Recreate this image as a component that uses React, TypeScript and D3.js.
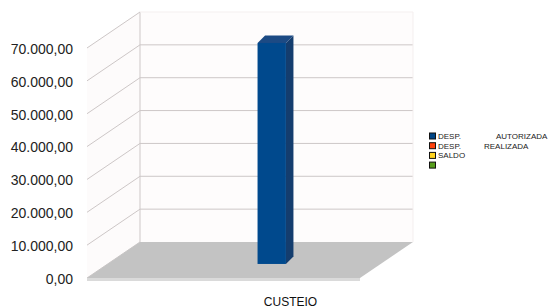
import React from "react";
import * as d3 from "d3";

const categories = ["CUSTEIO"];
const seriesNames = ["DESP. AUTORIZADA", "DESP. REALIZADA", "SALDO", ""];
const seriesColors = ["#004586", "#ff420e", "#ffd320", "#579d1c"];
const seriesValues = [[67250], [0], [0], [0]];
const yTicks = [0, 10000, 20000, 30000, 40000, 50000, 60000, 70000];

const W = 548;
const H = 308;
// front plane of the 3D box, and the shift from front to back wall
const front = { left: 87, right: 360, bottom: 278, top: 48 };
const depth = { dx: 53, dy: -36 };
const barDepth = { dx: 7.5, dy: -7.5 };

const fmt = (v: number) =>
  d3.format(",.2f")(v).replace(/,/g, "#").replace(/\./g, ",").replace(/#/g, ".");

export default function App() {
  const x = d3.scaleBand().domain(categories).range([front.left, front.right]);
  const y = d3.scaleLinear().domain([0, 70000]).range([front.bottom, front.top]);

  // bar sits part way into the floor
  const barD = 0.39;
  const bw = x.bandwidth();

  const backY = (v: number) => y(v) + depth.dy;
  const backL = front.left + depth.dx;
  const backR = front.right + depth.dx;

  const bars: JSX.Element[] = [];
  seriesValues.forEach((vals, si) => {
    vals.forEach((v, ci) => {
      if (!v) return;
      const x0 = (x(categories[ci]) as number) + bw * 0.549 + depth.dx * barD;
      const x1 = x0 + bw * 0.104;
      const yb = y(0) + depth.dy * barD;
      const yt = y(v) + depth.dy * barD;
      const c = d3.color(seriesColors[si])!;
      bars.push(
        <g key={`${si}-${ci}`}>
          <polygon
            points={`${x1},${yt} ${x1 + barDepth.dx},${yt + barDepth.dy} ${x1 + barDepth.dx},${yb + barDepth.dy} ${x1},${yb}`}
            fill={"#143d6e"}
          />
          <polygon
            points={`${x0},${yt} ${x1},${yt} ${x1 + barDepth.dx},${yt + barDepth.dy} ${x0 + barDepth.dx},${yt + barDepth.dy}`}
            fill={"#1c4a84"}
          />
          <rect x={x0} y={yt} width={x1 - x0} height={yb - yt} fill={c.brighter(0.15).toString()} />
        </g>
      );
    });
  });

  return (
    <svg
      width={W}
      height={H}
      style={{ position: "absolute", left: 0, top: 0, background: "#fff" }}
      fontFamily="Liberation Sans, Arial, sans-serif"
    >
      {/* walls */}
      <polygon
        points={`${backL},${backY(70000)} ${backR},${backY(70000)} ${backR},${backY(0)} ${backL},${backY(0)}`}
        fill="#fefcfc"
      />
      <polygon
        points={`${front.left},${y(70000)} ${backL},${backY(70000)} ${backL},${backY(0)} ${front.left},${y(0)}`}
        fill="#fdfbfb"
      />
      {yTicks.map((t) => (
        <g key={t}>
          {t > 0 && t < 70000 && (
            <line x1={backL} x2={backR} y1={backY(t)} y2={backY(t)} stroke="#cdc7c7" strokeWidth={1} />
          )}
          <line x1={front.left} x2={backL} y1={y(t)} y2={backY(t)} stroke="#cdc7c7" strokeWidth={1} />
        </g>
      ))}
      <line x1={backL} x2={backL} y1={backY(70000)} y2={backY(0)} stroke="#cdc7c7" />
      <line x1={backL} x2={backR} y1={backY(70000)} y2={backY(70000)} stroke="#f4efef" />
      <line x1={backR} x2={backR} y1={backY(70000)} y2={backY(0)} stroke="#f4efef" />

      {/* floor */}
      <polygon
        points={`${front.left},${y(0) + 3} ${front.right},${y(0) + 3} ${front.right},${y(0)} ${front.left},${y(0)}`}
        fill="#dadada"
      />
      <polygon
        points={`${front.left},${y(0)} ${front.right},${y(0)} ${backR},${backY(0)} ${backL},${backY(0)}`}
        fill="#c3c3c3"
      />

      {bars}

      {yTicks.map((t) => (
        <text key={t} x={73} y={y(t) + 1} dy="0.35em" textAnchor="end" fontSize={14} fill="#222">
          {fmt(t)}
        </text>
      ))}

      {categories.map((c) => (
        <text key={c} x={(x(c) as number) + bw / 2 + 67} y={306} textAnchor="middle" fontSize={12} fill="#111">
          {c}
        </text>
      ))}

      {/* legend */}
      {seriesNames.map((n, i) => {
        const [w1, w2] = n.split(" ");
        const ly = 136 + i * 9.7;
        return (
          <g key={i}>
            <rect x={429.5} y={ly - 3} width={6} height={6} fill={seriesColors[i]} stroke="#111" strokeWidth={1} />
            <text x={438} y={ly + 3} fontSize={8} fill="#222">
              {w1}
            </text>
            {w2 && (
              <text x={i === 0 ? 496 : 484} y={ly + 3} fontSize={8} fill="#222">
                {w2}
              </text>
            )}
          </g>
        );
      })}
    </svg>
  );
}
